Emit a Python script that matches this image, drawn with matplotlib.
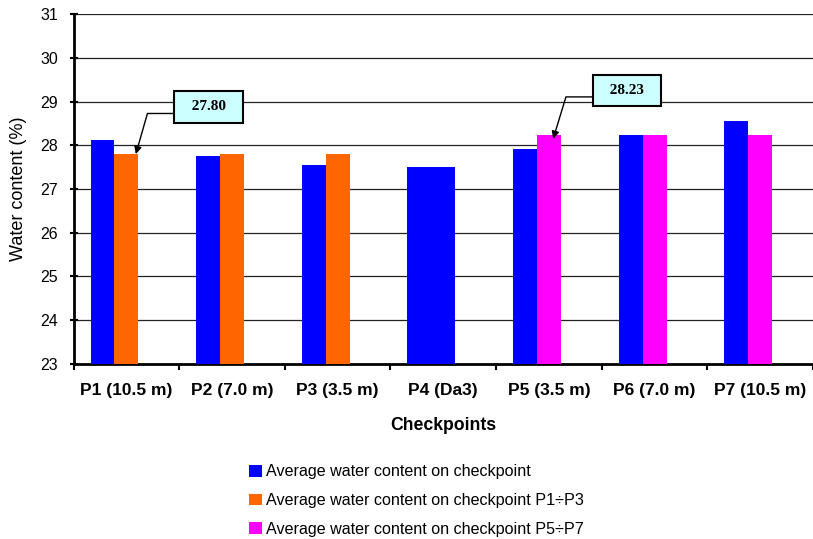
import matplotlib
matplotlib.use("Agg")
import matplotlib.pyplot as plt
from matplotlib.patches import Patch
import numpy as np

categories = ["P1 (10.5 m)", "P2 (7.0 m)", "P3 (3.5 m)", "P4 (Da3)",
              "P5 (3.5 m)", "P6 (7.0 m)", "P7 (10.5 m)"]
avg_checkpoint = [28.12, 27.76, 27.56, 27.50, 27.91, 28.23, 28.55]
avg_group = [27.80, 27.80, 27.80, 27.50, 28.23, 28.23, 28.23]
group_colors = ["#FF6600", "#FF6600", "#FF6600", "#0000FF",
                "#FF00FF", "#FF00FF", "#FF00FF"]
legend_labels = ["Average water content on checkpoint",
                 "Average water content on checkpoint P1\u00f7P3",
                 "Average water content on checkpoint P5\u00f7P7"]
legend_colors = ["#0000FF", "#FF6600", "#FF00FF"]
yticks = [23, 24, 25, 26, 27, 28, 29, 30, 31]

plt.rcParams['font.family'] = ['Liberation Sans', 'DejaVu Sans']

fig = plt.figure(figsize=(8.13, 5.39), dpi=100)
ax = fig.add_axes([0.0905, 0.3256, 0.9095, 0.6475])

x = np.arange(len(categories))
w = 0.2264
ax.bar(x - w, avg_checkpoint, width=w, color="#0000FF", zorder=3)
ax.bar(x, avg_group, width=w, color=group_colors, zorder=3)

ax.set_ylim(23, 31)
ax.set_xlim(-0.5, 6.475)
ax.set_yticks(yticks)
ax.set_yticklabels([str(v) for v in yticks], fontsize=11.5)
for v in yticks[1:]:
    ax.axhline(v, color='#222222', lw=0.9, zorder=1)

ax.set_xticks(np.arange(-0.5, 7.0, 1.0))
ax.set_xticklabels([])
ax.set_xticks(x, minor=True)
ax.set_xticklabels(categories, minor=True, fontsize=12.5, fontweight='bold')
ax.tick_params(axis='x', which='minor', length=0, pad=14)
ax.tick_params(axis='x', which='major', length=4, width=1.5, direction='out')
ax.tick_params(axis='y', length=6, width=1.5, direction='inout', pad=8)

for s in ['top', 'right']:
    ax.spines[s].set_visible(False)
ax.spines['left'].set_linewidth(2)
ax.spines['bottom'].set_linewidth(2)

ax.set_ylabel("Water content (%)", fontsize=13, labelpad=10)
ax.set_xlabel("Checkpoints", fontsize=12.7, fontweight='bold', labelpad=14)

bbox = dict(boxstyle='square,pad=0.6', fc='#CCFFFF', ec='black', lw=1.5)
ax.annotate("  27.80  ", xy=(0.089, 27.80), xytext=(0.777, 28.88),
            ha='center', va='center', fontsize=11, fontweight='bold',
            family='Liberation Serif', bbox=bbox, zorder=5,
            arrowprops=dict(arrowstyle='-|>', color='black', lw=1,
                            relpos=(0, 0), shrinkA=0, shrinkB=0,
                            connectionstyle='angle,angleA=0,angleB=74,rad=0'))
ax.annotate("  28.23  ", xy=(4.04, 28.15), xytext=(4.74, 29.26),
            ha='center', va='center', fontsize=11, fontweight='bold',
            family='Liberation Serif', bbox=bbox, zorder=5,
            arrowprops=dict(arrowstyle='-|>', color='black', lw=1,
                            relpos=(0, 0), shrinkA=0, shrinkB=0,
                            connectionstyle='angle,angleA=0,angleB=73,rad=0'))

handles = [Patch(facecolor=c) for c in legend_colors]
fig.legend(handles, legend_labels, loc='upper left',
           bbox_to_anchor=(243 / 813, 1 - 458 / 539), frameon=False,
           fontsize=11.6, handlelength=0.75, handleheight=0.75, handletextpad=0.25,
           labelspacing=0.85, borderaxespad=0)

fig.savefig("out.png", dpi=100)
